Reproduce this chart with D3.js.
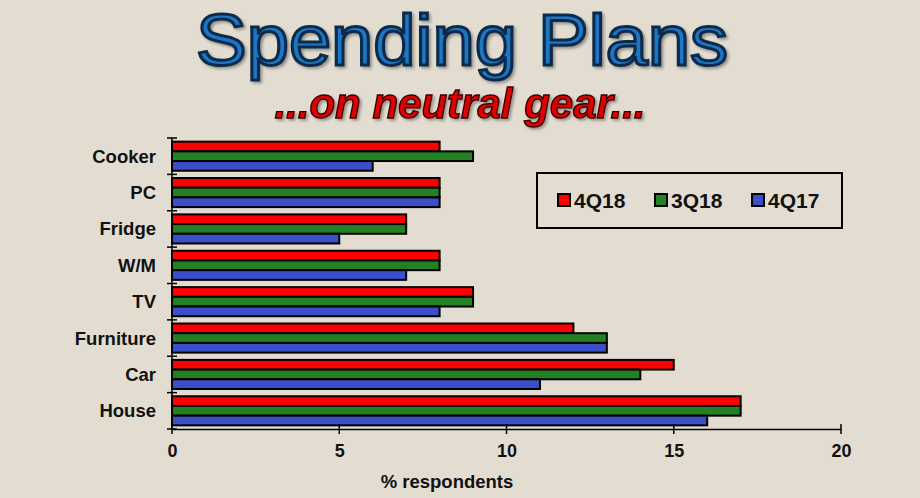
<!DOCTYPE html>
<html>
<head>
<meta charset="utf-8">
<script src="https://cdn.jsdelivr.net/npm/d3@7"></script>
<style>
  body { margin: 0; background: #e3ddd1; }
  svg { display: block; font-family: "Liberation Sans", Arial, sans-serif; }
</style>
</head>
<body>
<svg id="chart" width="920" height="498"></svg>
<script>
let categories = ["Cooker", "PC", "Fridge", "W/M", "TV", "Furniture", "Car", "House"];
let seriesNames = ["4Q18", "3Q18", "4Q17"];
let s4Q18 = [8, 8, 7, 8, 9, 12, 15, 17];
let s3Q18 = [9, 8, 7, 8, 9, 13, 14, 17];
let s4Q17 = [6, 8, 5, 7, 8, 13, 11, 16];
let colors = ["#ff0000", "#238023", "#3a4fc8"];
let xTicks = [0, 5, 10, 15, 20];

let svg = d3.select("#chart");

// shadow filter for the title text
let defs = svg.append("defs");
let f = defs.append("filter").attr("id", "shadow").attr("x", "-5%").attr("y", "-5%").attr("width", "110%").attr("height", "120%");
f.append("feDropShadow").attr("dx", 2).attr("dy", 2).attr("stdDeviation", 1.5).attr("flood-color", "#000").attr("flood-opacity", 0.35);

svg.append("text")
    .attr("x", 462).attr("y", 65)
    .attr("text-anchor", "middle")
    .attr("font-size", "72px")
    .attr("textLength", 532)
    .attr("lengthAdjust", "spacingAndGlyphs")
    .attr("fill", "#1d77c6")
    .attr("stroke", "#0d2c4c")
    .attr("stroke-width", 3)
    .attr("filter", "url(#shadow)")
    .text("Spending Plans");

svg.append("text")
    .attr("x", 460).attr("y", 118)
    .attr("text-anchor", "middle")
    .attr("font-size", "42px")
    .attr("font-weight", "bold")
    .attr("font-style", "italic")
    .attr("fill", "#e00000")
    .attr("stroke", "#3a0000")
    .attr("stroke-width", 1.4)
    .attr("filter", "url(#shadow)")
    .text("...on neutral gear...");

let pLeft = 172, pRight = 841, pTop = 138, pBottom = 429;

let x = d3.scaleLinear().domain([0, 20]).range([pLeft, pRight]);
let y = d3.scaleBand().domain(categories).range([pTop, pBottom]).paddingInner(0.2).paddingOuter(0.1);
let ySub = d3.scaleBand().domain(seriesNames).range([0, y.bandwidth()]);
let yLines = d3.scaleBand().domain(categories).range([pTop, pBottom]);

let data = categories.map(function(c, i) {
    return { cat: c, values: [s4Q18[i], s3Q18[i], s4Q17[i]] };
});

// bars
let groups = svg.selectAll(".grp")
    .data(data)
    .enter().append("g")
    .attr("class", "grp")
    .attr("transform", function(d) { return "translate(0," + y(d.cat) + ")"; });

groups.selectAll("rect")
    .data(function(d) { return d.values.map(function(v, j) { return { name: seriesNames[j], v: v, c: colors[j] }; }); })
    .enter().append("rect")
    .attr("x", x(0))
    .attr("y", function(d) { return ySub(d.name); })
    .attr("width", function(d) { return x(d.v) - x(0); })
    .attr("height", ySub.bandwidth())
    .attr("fill", function(d) { return d.c; })
    .attr("stroke", "#000")
    .attr("stroke-width", 2);

// y axis line + ticks at band boundaries
svg.append("line")
    .attr("x1", pLeft).attr("x2", pLeft)
    .attr("y1", pTop).attr("y2", pBottom)
    .attr("stroke", "#000").attr("stroke-width", 1.5);

let bounds = categories.map(function(c) { return yLines(c); }).concat([pBottom]);
svg.selectAll(".ytick")
    .data(bounds)
    .enter().append("line")
    .attr("x1", pLeft - 5).attr("x2", pLeft + 5)
    .attr("y1", function(d) { return d; }).attr("y2", function(d) { return d; })
    .attr("stroke", "#000").attr("stroke-width", 1.5);

svg.selectAll(".ylab")
    .data(categories)
    .enter().append("text")
    .attr("x", 156)
    .attr("y", function(d) { return yLines(d) + yLines.bandwidth() / 2; })
    .attr("dy", "0.35em")
    .attr("text-anchor", "end")
    .attr("font-size", "18.5px")
    .attr("font-weight", "bold")
    .attr("fill", "#111")
    .text(function(d) { return d; });

// x axis
let xAxis = svg.append("g")
    .attr("transform", "translate(0," + pBottom + ")")
    .call(d3.axisBottom(x).tickValues(xTicks).tickSize(0).tickPadding(15));
xAxis.select(".domain").attr("stroke", "#000").attr("stroke-width", 1.5);
xAxis.selectAll(".tick text")
    .attr("font-size", "18px")
    .attr("font-weight", "bold")
    .attr("font-family", "Liberation Sans, Arial, sans-serif")
    .attr("fill", "#111");
svg.selectAll(".xtick")
    .data(xTicks)
    .enter().append("line")
    .attr("x1", function(d) { return x(d); }).attr("x2", function(d) { return x(d); })
    .attr("y1", pBottom - 5).attr("y2", pBottom + 5)
    .attr("stroke", "#000").attr("stroke-width", 1.5);

svg.append("text")
    .attr("x", 447).attr("y", 488)
    .attr("text-anchor", "middle")
    .attr("font-size", "18.5px")
    .attr("font-weight", "bold")
    .attr("fill", "#111")
    .text("% respondents");

// legend
let legend = svg.append("g");
legend.append("rect")
    .attr("x", 537).attr("y", 173)
    .attr("width", 305).attr("height", 55)
    .attr("fill", "none")
    .attr("stroke", "#000").attr("stroke-width", 2);

let legX = [558, 655, 752];
let items = legend.selectAll(".leg")
    .data(seriesNames)
    .enter().append("g")
    .attr("transform", function(d, i) { return "translate(" + legX[i] + ",200)"; });
items.append("rect")
    .attr("x", 0).attr("y", -6)
    .attr("width", 12).attr("height", 12)
    .attr("fill", function(d, i) { return colors[i]; })
    .attr("stroke", "#000").attr("stroke-width", 2);
items.append("text")
    .attr("x", 16).attr("y", 0)
    .attr("dy", "0.36em")
    .attr("font-size", "21px")
    .attr("font-weight", "bold")
    .attr("fill", "#111")
    .text(function(d) { return d; });
</script>
</body>
</html>
